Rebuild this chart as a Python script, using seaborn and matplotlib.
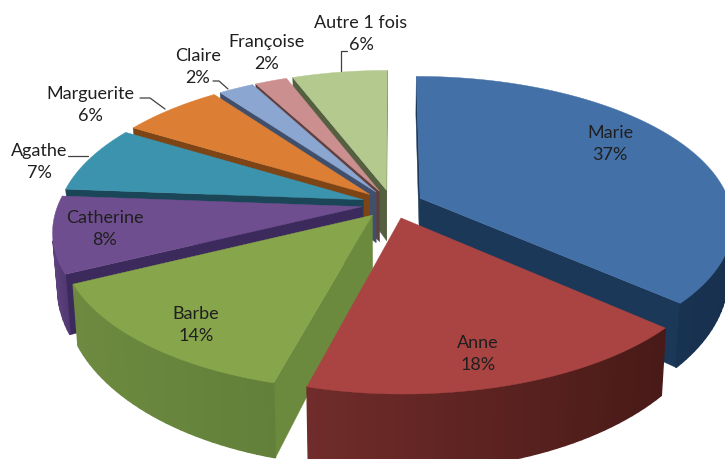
"""Exploded 3D pie of first names, drawn as projected polygons."""

import numpy as np
import matplotlib
matplotlib.use("Agg")
import matplotlib.pyplot as plt
import seaborn as sns
from matplotlib.patches import Polygon

names = ["Marie", "Anne", "Barbe", "Catherine", "Agathe", "Marguerite", "Claire", "Françoise", "Autre 1 fois"]
shares = [36.6, 17.6, 13.6, 8.4, 7.4, 6.3, 2.2, 2.0, 5.9]

top_colors = sns.color_palette(["#4470a8", "#a94442", "#87a54b", "#6f4e8f", "#3b93ad", "#dc7e33", "#8ca6d2", "#cc8f8f", "#b4c98e"])
cut_colors = sns.color_palette(["#1b3858", "#6f2c2a", "#6b8a3e", "#3d2a5c", "#1b4658", "#7d4416", "#3f4f6c", "#60403f", "#556040"])
rim_left = sns.color_palette(["#1d3c60", "#702c2a", "#6e8a40", "#5e4380", "#2a6b80", "#a85f24", "#64799a", "#966a6a", "#84946a"])
rim_right = sns.color_palette(["#17304e", "#481a17", "#62803a", "#543a74", "#2a6b80", "#a85f24", "#64799a", "#966a6a", "#84946a"])

label_xy = [(610, 144), (478, 354), (196, 325), (105, 229), (39, 162), (90, 105), (198, 67), (267, 53), (361, 34)]
leaders = {
    "Autre 1 fois": [(341, 72), (341, 52), (347, 52)],
    "Claire": [(213, 82), (219, 82), (228, 90)],
    "Marguerite": [(140, 99), (150, 99), (165, 110)],
    "Agathe": [(68, 157), (88, 157)],
}

# projection settings
CX, CY = 392, 205
RX, RY = 310, 143
LEFT_SQUEEZE = 0.98
PERSP = 0.16
DEPTH = 52
EXPLODE = 0.1


def project(x, y, lower=False):
    w = 1 / (1 + PERSP * y)
    sx = RX * x * w
    sy = -RY * y * w
    sx = np.where(sx < 0, sx * LEFT_SQUEEZE, sx)
    if lower:
        sx = sx * 0.985
        sy = sy + DEPTH * w ** 2
    return CX + sx, CY + sy


def wedge_outline(start, stop, lower=False):
    mid = np.radians((start + stop) / 2)
    off = EXPLODE * np.array([np.cos(mid), np.sin(mid)])
    t = np.radians(np.linspace(start, stop, max(int(abs(stop - start) / 1.5), 2)))
    rim = np.column_stack(project(off[0] + np.cos(t), off[1] + np.sin(t), lower))
    apex = np.array(project(off[0], off[1], lower), dtype=float)
    return apex, rim


def is_front(quad):
    # screen y runs downwards, the outline goes clockwise in the pie plane
    x, y = quad[:, 0], quad[:, 1]
    return np.sum(x * np.roll(y, -1) - np.roll(x, -1) * y) < 0


def draw_slice(ax, start, stop, i):
    apex, rim = wedge_outline(start, stop)
    apex_low, rim_low = wedge_outline(start, stop, lower=True)

    # the two cut faces
    for quad in (
        np.array([apex, rim[0], rim_low[0], apex_low]),
        np.array([rim[-1], apex, apex_low, rim_low[-1]]),
    ):
        if is_front(quad):
            ax.add_patch(Polygon(quad, fc=cut_colors[i], ec=cut_colors[i], lw=0.3))

    # outer wall, shaded left to right
    xmin, xmax = rim[:, 0].min(), rim[:, 0].max()
    for j in range(len(rim) - 1):
        quad = np.array([rim[j], rim[j + 1], rim_low[j + 1], rim_low[j]])
        if is_front(quad):
            f = (quad[:, 0].mean() - xmin) / max(xmax - xmin, 1)
            col = (1 - f) * np.array(rim_left[i]) + f * np.array(rim_right[i])
            ax.add_patch(Polygon(quad, fc=col, ec=col, lw=1.0))

    ax.add_patch(Polygon(np.vstack([apex, rim]), fc=top_colors[i], ec=top_colors[i], lw=0.3))


sns.set_theme(style="white")
plt.rcParams["font.family"] = ["Lato", "DejaVu Sans"]

fig = plt.figure(figsize=(7.25, 4.6), dpi=100)
ax = fig.add_axes([0, 0, 1, 1])
ax.set_xlim(0, 725)
ax.set_ylim(460, 0)
ax.axis("off")

# clockwise from twelve o'clock
edges = 90 - 3.6 * np.cumsum([0] + shares)
slices = [(edges[i], edges[i + 1], i) for i in range(len(shares))]
# paint from the back of the pie to the front
slices.sort(key=lambda s: np.sin(np.radians((s[0] + s[1]) / 2)), reverse=True)
for start, stop, i in slices:
    draw_slice(ax, start, stop, i)

for name, share, (x, y) in zip(names, shares, label_xy):
    ax.text(x, y, f"{name}\n{share:.0f}%", ha="center", va="center", fontsize=13,
            color="#1f1f1f", linespacing=1.5)

for pts in leaders.values():
    ax.plot(*zip(*pts), color="#404040", lw=0.9)

fig.savefig("out.png", dpi=100)
